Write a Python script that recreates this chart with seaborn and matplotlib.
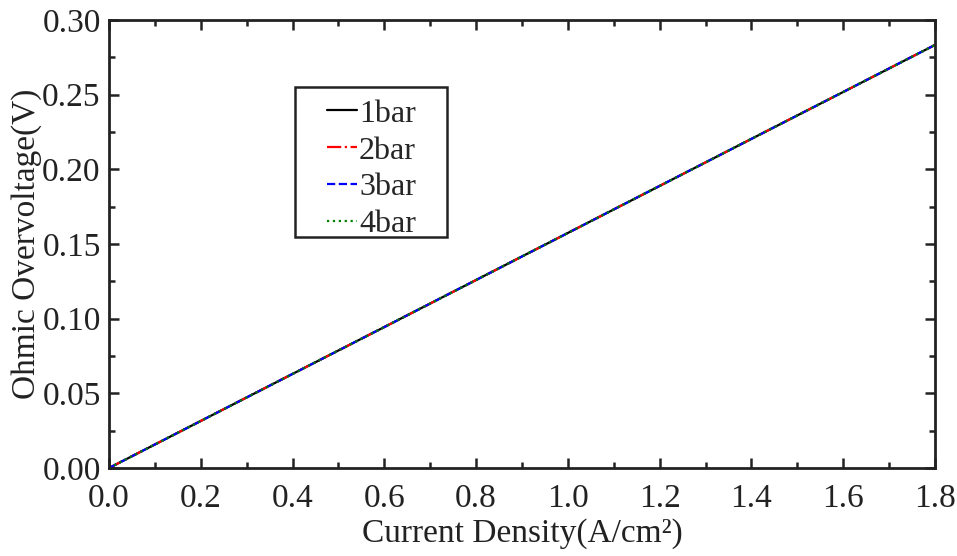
import matplotlib
matplotlib.use("Agg")
import matplotlib.pyplot as plt
import seaborn as sns
import pandas as pd
from matplotlib.ticker import MultipleLocator
from matplotlib.patches import Rectangle

current_density = [0.0, 0.2, 0.4, 0.6, 0.8, 1.0, 1.2, 1.4, 1.6, 1.8]
v_1bar = [0.0, 0.0315, 0.0630, 0.0944, 0.1259, 0.1574, 0.1889, 0.2204, 0.2518, 0.2833]
v_2bar = [0.0, 0.0315, 0.0630, 0.0944, 0.1259, 0.1574, 0.1889, 0.2204, 0.2518, 0.2833]
v_3bar = [0.0, 0.0315, 0.0630, 0.0944, 0.1259, 0.1574, 0.1889, 0.2204, 0.2518, 0.2833]
v_4bar = [0.0, 0.0315, 0.0630, 0.0944, 0.1259, 0.1574, 0.1889, 0.2204, 0.2518, 0.2833]
labels = ["1bar", "2bar", "3bar", "4bar"]

sns.set_theme(style="ticks")
plt.rcParams['font.family'] = ['Liberation Serif', 'DejaVu Serif']

fig = plt.figure(figsize=(9.57, 5.56), dpi=100)
ax = fig.add_axes([109/957, 1-468/556, 826/957, 448/556])

series = [v_1bar, v_2bar, v_3bar, v_4bar]
colors = ["black", "red", "blue", "green"]
styles = ["-", "-.", "--", ":"]
for lab, vals, c, ls in zip(labels, series, colors, styles):
    df = pd.DataFrame({"x": current_density, "y": vals})
    sns.lineplot(data=df, x="x", y="y", ax=ax, color=c, linestyle=ls, linewidth=1.6, label=lab)

ax.set_xlim(0, 1.8)
ax.set_ylim(0, 0.30)
ax.xaxis.set_minor_locator(MultipleLocator(0.1))
ax.yaxis.set_minor_locator(MultipleLocator(0.025))
ax.set_xticks([0.0, 0.2, 0.4, 0.6, 0.8, 1.0, 1.2, 1.4, 1.6, 1.8])
ax.set_xticklabels(["0.0", "0.2", "0.4", "0.6", "0.8", "1.0", "1.2", "1.4", "1.6", "1.8"])
ax.set_yticks([0.0, 0.05, 0.10, 0.15, 0.20, 0.25, 0.30])
ax.set_yticklabels(["0.00", "0.05", "0.10", "0.15", "0.20", "0.25", "0.30"])
ax.tick_params(which="both", direction="in", top=True, right=True, width=1.8, colors="#222222", labelcolor="#222222")
ax.tick_params(which="major", length=7, labelsize=24)
ax.tick_params(axis="x", which="major", pad=11)
ax.tick_params(axis="y", which="major", pad=6)
ax.tick_params(which="minor", length=4.5)
for s in ax.spines.values():
    s.set_linewidth(2.0)
    s.set_color("#222222")

ax.set_xlabel("Current Density(A/cm²)", fontsize=24, color="#222222", labelpad=3)
ax.set_ylabel("Ohmic Overvoltage(V)", fontsize=24, color="#222222", labelpad=0)

leg = ax.legend(loc="upper left", bbox_to_anchor=(0.264, 0.823), fontsize=23,
                frameon=False, handlelength=0.95,
                handletextpad=0.05, borderpad=0, labelspacing=0.235, borderaxespad=0)
ax.add_patch(Rectangle((0.2252, 0.5156), 0.184, 0.3348, transform=ax.transAxes,
                       fill=False, edgecolor="#222222", linewidth=1.8, zorder=5))

fig.savefig("out.png", dpi=100)
